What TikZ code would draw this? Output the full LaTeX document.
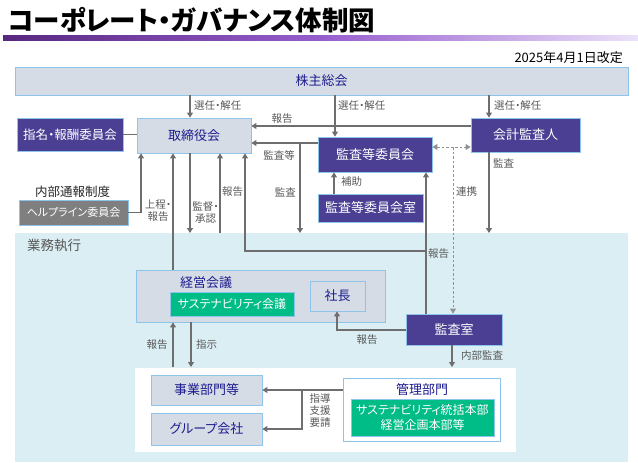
\documentclass[tikz,border=0pt]{standalone}
\usepackage{fontspec}
\setmainfont{Noto Sans CJK JP}[RawFeature=+palt]
\usetikzlibrary{arrows.meta}
\definecolor{boxfill}{HTML}{D6DCE5}
\definecolor{bord}{HTML}{8FC4EA}
\definecolor{navytxt}{HTML}{1C1C8E}
\definecolor{purp}{HTML}{4B3F94}
\definecolor{grn}{HTML}{00BC86}
\definecolor{gbox}{HTML}{7F7F7F}
\definecolor{region}{HTML}{DAEEF4}
\definecolor{linec}{HTML}{6E6E6E}
\definecolor{labc}{HTML}{595959}
\tikzset{
  basebox/.style={draw=bord, line width=0.8pt, inner sep=0pt, font=\fontsize{13}{15.5}\selectfont},
  lbox/.style={basebox, fill=boxfill, text=navytxt},
  pbox/.style={basebox, fill=purp, text=white},
  gnbox/.style={basebox, fill=grn, text=white, align=center},
  graybox/.style={basebox, fill=gbox, text=white},
  arr/.style={draw=linec, line width=1.1pt, -{Triangle[width=6pt,length=5pt]}},
  plainline/.style={draw=linec, line width=1.1pt},
  dasharr/.style={draw=linec!75, line width=1pt, dashed, dash pattern=on 2.5pt off 2pt},
  lab/.style={text=labc, font=\fontsize{10.5}{12}\selectfont, inner sep=0pt, align=center},
}
\begin{document}
\begin{tikzpicture}[x=1pt, y=-1pt]
\useasboundingbox (0,0) rectangle (638,463);
% title
\node[anchor=west, inner sep=0pt, font=\fontsize{26.5}{30}\selectfont\bfseries] (title) at (8,20.5) {コーポレート・ガバナンス体制図};
\shade[left color={rgb,255:red,88;green,40;blue,128}, right color={rgb,255:red,236;green,226;blue,250}, middle color={rgb,255:red,150;green,92;blue,205}] (3,35) rectangle (638,40.5);
\node[anchor=east, inner sep=0pt, font=\fontsize{13}{15}\selectfont] (date) at (623,57.5) {2025年4月1日改定};
% region
\fill[region] (15,233) rectangle (628,462);
\fill[white] (135,368) rectangle (516,452);
\node[anchor=west, inner sep=0pt, text=labc, font=\fontsize{13.5}{15}\selectfont] (gyomu) at (27,245) {業務執行};
\coordinate (rtop) at (0,233);
\coordinate (wtop) at (0,367);
% boxes
\node[lbox, minimum width=613pt, minimum height=28pt] (sh) at (321.5,81) {株主総会};
\node[lbox, minimum width=114pt, minimum height=35pt] (tor) at (194,135.5) {取締役会};
\node[pbox, minimum width=106pt, minimum height=33pt, font=\fontsize{12.5}{15}\selectfont] (nom) at (70,134.5) {指名・報酬委員会};
\node[inner sep=0pt, font=\fontsize{12.5}{14}\selectfont, text=black!85] (naibu) at (72.5,191.5) {内部通報制度};
\node[graybox, minimum width=109pt, minimum height=25pt, font=\fontsize{11}{14}\selectfont] (help) at (73.5,212.5) {ヘルプライン委員会};
\node[pbox, minimum width=109pt, minimum height=34pt] (kan) at (525.5,135) {会計監査人};
\node[pbox, minimum width=114pt, minimum height=35pt] (kiin) at (375,154.5) {監査等委員会};
\node[pbox, minimum width=105pt, minimum height=28pt] (kiins) at (370.5,208) {監査等委員会室};
\node[lbox, minimum width=249pt, minimum height=52pt] (keiei) at (260.5,296) {};
\node[inner sep=0pt, text=navytxt, font=\fontsize{13}{15.5}\selectfont] (keieilab) at (206,283) {経営会議};
\node[gnbox, minimum width=124pt, minimum height=24pt, font=\fontsize{12}{15}\selectfont] (sus) at (232,304) {サステナビリティ会議};
\node[lbox, minimum width=55pt, minimum height=30pt] (shacho) at (337.5,296) {社長};
\node[pbox, minimum width=96pt, minimum height=31pt] (kansa) at (454,329.5) {監査室};
\node[lbox, minimum width=111pt, minimum height=30pt] (jigyo) at (206.5,390) {事業部門等};
\node[lbox, minimum width=111pt, minimum height=32pt] (group) at (206.5,429) {グループ会社};
\node[basebox, fill=white, minimum width=157pt, minimum height=63pt] (kanri) at (421.5,409.5) {};
\node[inner sep=0pt, text=navytxt, font=\fontsize{13}{15.5}\selectfont] (kanrilab) at (422,389.5) {管理部門};
\node[gnbox, minimum width=143pt, minimum height=37pt, font=\fontsize{12}{15.5}\selectfont] (kanrig) at (422.5,417.5) {サステナビリティ統括本部\\経営企画本部等};
% connectors from shareholders
\draw[arr] (sh.south -| 190,0) -- (tor.north -| 190,0);
\node[lab, anchor=west] (l1) at (194,106) {選任・解任};
\draw[arr] (sh.south -| 335,0) -- (kiin.north -| 335,0);
\node[lab, anchor=west] (l2) at (338,106) {選任・解任};
\draw[arr] (sh.south -| 489,0) -- (kan.north -| 489,0);
\node[lab, anchor=west] (l3) at (494,106) {選任・解任};
% nomination line
\draw[plainline] (nom.east) -- (nom.east -| tor.west);
% helpline
\draw[arr] (help.east) -| (tor.south -| 141,0);
\node[lab] (l4) at (158,211) {上程・\\報告};
% keiei -> tor
\draw[arr] (keiei.north -| 173,0) -- (tor.south -| 173,0);
% supervision
\draw[arr] (tor.south -| 190,0) -- (rtop -| 190,0);
\node[lab] (l5) at (205.5,213) {監督・\\承認};
\draw[arr] (rtop -| 220,0) -- (tor.south -| 220,0);
\node[lab, anchor=west] (l6) at (222,192) {報告};
% audit office report
\coordinate (jn) at (426,251);
\draw[arr] (kansa.north -| 426,0) -- (kiin.south -| 426,0);
\draw[arr] (jn) -| (tor.south -| 245,0);
\node[lab, anchor=west] (l7) at (428,254) {報告};
% accounting auditor report
\draw[arr] (kan.west |- 0,126) -- (tor.east |- 0,126);
\node[lab] (l8) at (282,119) {報告};
% audit committee
\coordinate (kb) at (300,143);
\draw[arr] (kiin.west |- 0,143) -- (tor.east |- 0,143);
\node[lab] (l9) at (279,155) {監査等};
\draw[arr] (kb) -- (rtop -| 300,0);
\node[lab, anchor=east] (l10) at (296,192) {監査};
\draw[arr] (kiins.north -| 334,0) -- (kiin.south -| 334,0);
\node[lab, anchor=west] (l11) at (341,182) {補助};
% cooperation
\coordinate (cj) at (453,147);
\draw[dasharr, {Triangle[width=6pt,length=5pt]}-{Triangle[width=6pt,length=5pt]}] (kiin.east |- 0,147) -- (kan.west |- 0,147);
\draw[dasharr, -{Triangle[width=6pt,length=5pt]}] (cj) -- (kansa.north -| 453,0);
\node[lab, anchor=west] (l12) at (456,192) {連携};
% accounting audit
\draw[arr] (kan.south -| 489,0) -- (rtop -| 489,0);
\node[lab, anchor=west] (l13) at (493,163) {監査};
% audit office -> president
\draw[arr] (kansa.west |- 0,330) -| (shacho.south -| 337,0);
\node[lab] (l14) at (367,340) {報告};
% internal audit
\draw[arr] (kansa.south -| 452,0) -- (wtop -| 452,0);
\node[lab, anchor=west] (l15) at (461,356) {内部監査};
% keiei <-> business
\draw[arr] (wtop -| 173,0) -- (keiei.south -| 173,0);
\node[lab] (l16) at (157,345) {報告};
\draw[arr] (keiei.south -| 191,0) -- (wtop -| 191,0);
\node[lab, anchor=west] (l17) at (196,345) {指示};
% management -> business
\coordinate (mj) at (302,390);
\draw[arr] (kanri.west |- 0,390) -- (jigyo.east |- 0,390);
\draw[arr] (mj) |- (group.east |- 0,429);
\node[lab] (l18) at (320,411) {指導\\支援\\要請};
\end{tikzpicture}
\end{document}
